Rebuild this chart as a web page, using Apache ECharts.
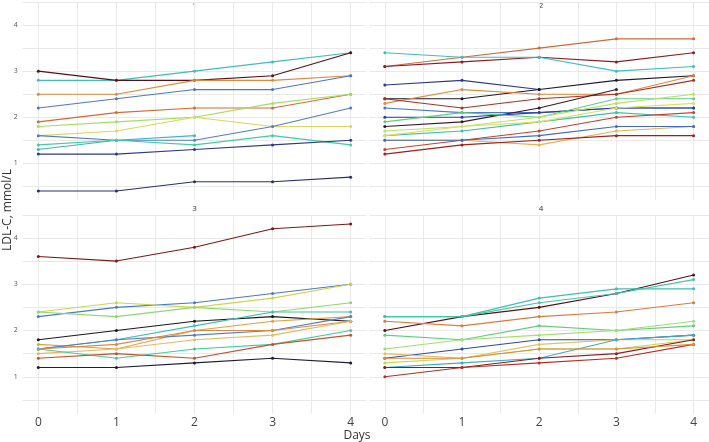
<!DOCTYPE html>
<html><head><meta charset="utf-8">
<script src="https://cdn.jsdelivr.net/npm/echarts@6/dist/echarts.min.js"></script>
<style>html,body{margin:0;padding:0;background:#fff}#c{width:709px;height:442px}</style>
</head><body><div id="c"></div>
<script>
const days = [0, 1, 2, 3, 4];
const panelNames = ['1', '2', '3', '4'];
const xTickLabels = [0, 1, 2, 3, 4];
const yTickLabels = [1, 2, 3, 4];

const panel1 = [
  [2.8, 2.8, 3.0, 3.2, 3.4],
  [3.0, 2.8, 2.8, 2.9, 3.4],
  [2.5, 2.5, 2.8, 2.8, 2.9],
  [2.2, 2.4, 2.6, 2.6, 2.9],
  [1.9, 2.1, 2.2, 2.2, 2.5],
  [1.8, 1.9, 2.0, 2.3, 2.5],
  [1.6, 1.7, 2.0, 1.8, 1.8],
  [1.6, 1.5, 1.5, 1.8, 2.2],
  [1.3, 1.5, 1.6, null, null],
  [1.4, 1.5, 1.4, 1.6, 1.4],
  [1.2, 1.2, 1.3, 1.4, 1.5],
  [0.4, 0.4, 0.6, 0.6, 0.7]
];
const panel2 = [
  [3.1, 3.3, 3.5, 3.7, 3.7],
  [3.1, 3.2, 3.3, 3.2, 3.4],
  [3.4, 3.3, 3.3, 3.0, 3.1],
  [2.7, 2.8, 2.6, null, null],
  [2.4, 2.4, 2.6, 2.8, 2.9],
  [2.3, 2.6, 2.5, 2.5, 2.9],
  [2.4, 2.2, 2.4, 2.5, 2.8],
  [2.2, 2.1, 2.1, 2.2, 2.2],
  [1.8, 1.9, 2.2, 2.6, null],
  [2.0, 2.0, 2.1, 2.2, 2.2],
  [1.9, 2.1, 2.0, 2.4, 2.4],
  [1.7, 1.8, 2.0, 2.3, 2.5],
  [1.6, 1.7, 1.9, 2.1, 2.0],
  [1.5, 1.5, 1.4, 1.7, 1.8],
  [1.3, 1.5, 1.7, 2.0, 2.1],
  [1.2, 1.4, 1.5, 1.6, 1.6],
  [1.5, 1.5, 1.6, 1.8, 1.8],
  [1.6, 1.8, 1.9, 2.2, 2.3]
];
const panel3 = [
  [3.6, 3.5, 3.8, 4.2, 4.3],
  [2.3, 2.5, 2.6, 2.8, 3.0],
  [2.4, 2.6, 2.5, 2.7, 3.0],
  [2.4, 2.3, 2.5, 2.4, 2.6],
  [1.8, 2.0, 2.2, 2.3, 2.2],
  [1.6, 1.8, 2.1, 2.4, 2.4],
  [1.7, 1.6, 2.0, 2.2, 2.3],
  [1.6, 1.8, 1.9, 2.0, 2.3],
  [1.6, 1.7, 2.0, 2.0, 2.2],
  [1.5, 1.6, 1.8, 1.9, 2.2],
  [1.6, 1.4, 1.6, 1.7, 2.0],
  [1.4, 1.5, 1.4, 1.7, 1.9],
  [1.2, 1.2, 1.3, 1.4, 1.3]
];
const panel4 = [
  [2.0, 2.3, 2.5, 2.8, 3.2],
  [2.3, 2.3, 2.7, 2.9, 2.9],
  [2.3, 2.3, 2.6, 2.8, 3.1],
  [2.2, 2.1, 2.3, 2.4, 2.6],
  [1.9, 1.8, 2.1, 2.0, 2.1],
  [1.6, 1.8, 1.9, 2.0, 2.2],
  [1.4, 1.6, 1.8, 1.8, 1.9],
  [1.5, 1.4, 1.7, 1.8, 1.8],
  [1.3, 1.4, 1.6, 1.6, 1.8],
  [1.2, 1.3, 1.4, 1.8, 1.9],
  [1.2, 1.2, 1.4, 1.5, 1.8],
  [1.0, 1.2, 1.3, 1.4, 1.7],
  [1.4, 1.4, 1.6, 1.6, 1.7]
];

const colors1 = ['#3bbfb8','#5a0f14','#e0883a','#4a78c8','#d9692f','#9ee05f','#d8d85a','#4f7ccf','#3cb3c0','#3fcf9a','#2c3a8c','#2a2f6e'];
const colors2 = ['#d46a3a','#8c1c1c','#3bbfc0','#2c3a8c','#1a1a2a','#e0883a','#a83220','#4a78c8','#3a1a2a','#2a3f9a','#5fcf7a','#b8e065','#3bbfb0','#e8b050','#c8402a','#a02018','#3f6cc0','#d8e060'];
const colors3 = ['#7a1a14','#4a78c8','#c8d84a','#8ed86a','#1a1a1a','#3bbfb0','#e0a040','#4f7ccf','#e0883a','#e8b860','#3fcf9a','#c8502a','#1c1c3c'];
const colors4 = ['#5a0f14','#3bbfb8','#40c8a0','#e07a3a','#5fcf7a','#9de06a','#2c4aa0','#e0c060','#c8d84a','#40a8d0','#8c1c1c','#b83020','#e0883a'];

const panels = [panel1, panel2, panel3, panel4];
const panelColors = [colors1, colors2, colors3, colors4];

const gridRects = [
  {left: 22.7, top: 2, width: 343.6, height: 198.2},
  {left: 369.4, top: 2, width: 343.4, height: 198.2},
  {left: 22.7, top: 214.8, width: 343.6, height: 199},
  {left: 369.4, top: 214.8, width: 343.4, height: 199}
];
const gridColor = '#e9e9e9';
const xHalf = [0, 0.5, 1, 1.5, 2, 2.5, 3, 3.5, 4];
const yHalf = [0.5, 1, 1.5, 2, 2.5, 3, 3.5, 4, 4.5];

const grid = gridRects.map(r => ({left: r.left, top: r.top, width: r.width, height: r.height, containLabel: false}));
const xAxis = gridRects.map((r, i) => ({
  type: 'value', gridIndex: i, min: -0.2, max: 4.2,
  axisLine: {show: false},
  axisTick: {show: false, customValues: xHalf},
  splitLine: {show: true, lineStyle: {color: gridColor, width: 1}},
  axisLabel: {show: i >= 2, customValues: xTickLabels, color: '#444', fontSize: 12, margin: 3, fontFamily: 'Open Sans'}
}));
const yAxis = gridRects.map((r, i) => ({
  type: 'value', gridIndex: i, min: 0.2, max: 4.5,
  axisLine: {show: false},
  axisTick: {show: false, customValues: yHalf},
  splitLine: {show: true, lineStyle: {color: gridColor, width: 1}},
  axisLabel: {show: i % 2 === 0, customValues: yTickLabels, color: '#555', fontSize: 7, margin: 5, fontFamily: 'Open Sans'}
}));

const series = [];
panels.forEach((panel, p) => {
  panel.forEach((vals, k) => {
    series.push({
      type: 'line', xAxisIndex: p, yAxisIndex: p,
      data: days.map((d, j) => vals[j] == null ? [d, null] : [d, vals[j]]),
      connectNulls: false,
      symbol: 'circle', symbolSize: 3, showSymbol: true,
      lineStyle: {width: 1.1, color: panelColors[p][k % panelColors[p].length]},
      itemStyle: {color: panelColors[p][k % panelColors[p].length]},
      animation: false, silent: true
    });
  });
});

const stripPos = [[194.5, 6], [541, 6], [194.5, 209], [541, 209]];
const graphic = stripPos.map((pos, i) => ({
  type: 'text', x: pos[0], y: pos[1],
  style: {text: panelNames[i], fill: '#333', fontSize: 8, align: 'center', verticalAlign: 'middle', fontFamily: 'Open Sans'}
}));
graphic.push({type: 'text', x: 357, y: 436, style: {text: 'Days', fill: '#333', fontSize: 12, align: 'center', verticalAlign: 'middle', fontFamily: 'Open Sans'}});
graphic.push({type: 'text', x: 8, y: 210, rotation: Math.PI / 2, style: {text: 'LDL-C, mmol/L', fill: '#333', fontSize: 12, align: 'center', verticalAlign: 'middle', fontFamily: 'Open Sans'}});

const chart = echarts.init(document.getElementById('c'), null, {renderer: 'canvas'});
chart.setOption({animation: false, grid, xAxis, yAxis, series, graphic});
</script></body></html>
